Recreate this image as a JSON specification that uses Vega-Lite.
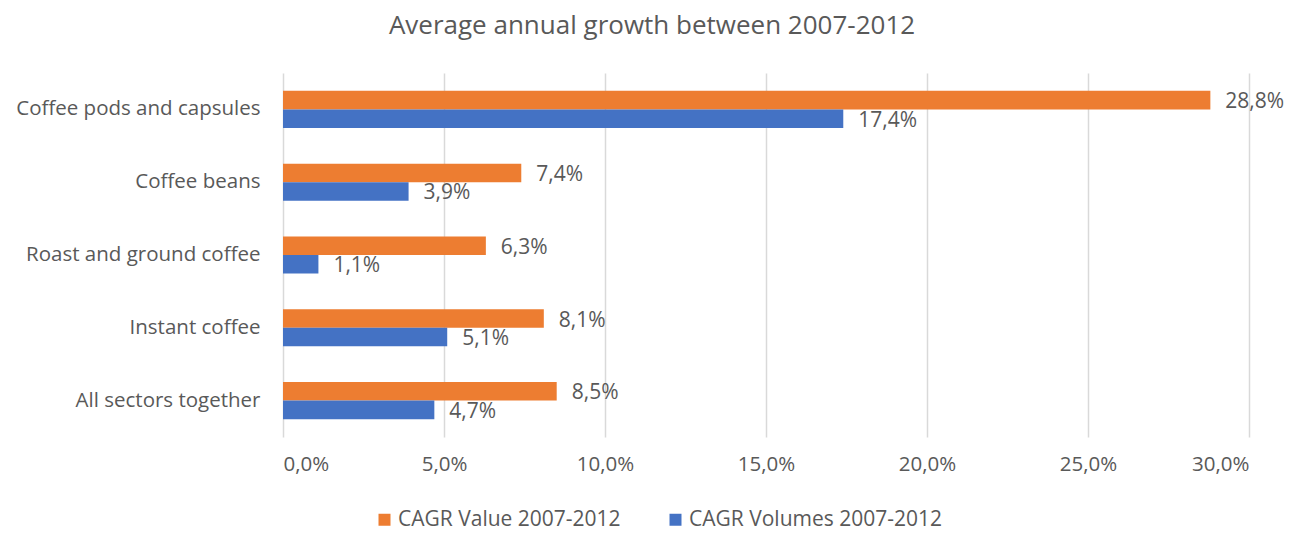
{
  "$schema": "https://vega.github.io/schema/vega-lite/v6.json",
  "autosize": {"type": "none"},
  "padding": {"left": 283, "top": 73, "right": 53, "bottom": 96},
  "width": 966,
  "height": 364,
  "background": "white",
  "title": {
    "text": "Average annual growth between 2007-2012",
    "anchor": "middle",
    "frame": "group",
    "dx": -114,
    "offset": 34,
    "fontSize": 26,
    "font": "Open Sans",
    "fontWeight": "normal",
    "color": "#595959"
  },
  "data": {
    "values": [
      {"category": "Coffee pods and capsules", "series": "CAGR Value 2007-2012", "value": 0.288},
      {"category": "Coffee pods and capsules", "series": "CAGR Volumes 2007-2012", "value": 0.174},
      {"category": "Coffee beans", "series": "CAGR Value 2007-2012", "value": 0.074},
      {"category": "Coffee beans", "series": "CAGR Volumes 2007-2012", "value": 0.039},
      {"category": "Roast and ground coffee", "series": "CAGR Value 2007-2012", "value": 0.063},
      {"category": "Roast and ground coffee", "series": "CAGR Volumes 2007-2012", "value": 0.011},
      {"category": "Instant coffee", "series": "CAGR Value 2007-2012", "value": 0.081},
      {"category": "Instant coffee", "series": "CAGR Volumes 2007-2012", "value": 0.051},
      {"category": "All sectors together", "series": "CAGR Value 2007-2012", "value": 0.085},
      {"category": "All sectors together", "series": "CAGR Volumes 2007-2012", "value": 0.047}
    ]
  },
  "encoding": {
    "y": {
      "field": "category",
      "type": "nominal",
      "sort": null,
      "scale": {"paddingInner": 0.49, "paddingOuter": 0.245},
      "axis": {
        "title": null,
        "domain": false,
        "ticks": false,
        "labelFontSize": 20.5,
        "labelFont": "Open Sans",
        "labelColor": "#595959",
        "labelPadding": 23,
        "labelLimit": 400
      }
    },
    "yOffset": {
      "field": "series",
      "type": "nominal",
      "sort": ["CAGR Value 2007-2012", "CAGR Volumes 2007-2012"],
      "scale": {"paddingInner": 0, "paddingOuter": 0}
    },
    "x": {
      "field": "value",
      "type": "quantitative",
      "scale": {"domain": [0, 0.3], "nice": false},
      "axis": {
        "title": null,
        "format": ".1%",
        "values": [0, 0.05, 0.1, 0.15, 0.2, 0.25, 0.3],
        "domain": false,
        "ticks": false,
        "grid": true,
        "gridColor": "#D9D9D9",
        "gridWidth": 1.5,
        "labelFontSize": 20.5,
        "labelFont": "Open Sans",
        "labelColor": "#595959",
        "labelPadding": 17
      }
    }
  },
  "layer": [
    {
      "mark": {"type": "bar"},
      "encoding": {
        "color": {
          "field": "series",
          "type": "nominal",
          "sort": ["CAGR Value 2007-2012", "CAGR Volumes 2007-2012"],
          "scale": {"domain": ["CAGR Value 2007-2012", "CAGR Volumes 2007-2012"], "range": ["#ED7D31", "#4472C4"]},
          "legend": {
            "title": null,
            "orient": "none",
            "direction": "horizontal",
            "legendX": 91,
            "legendY": 436,
            "symbolType": "square",
            "symbolSize": 144,
            "symbolStrokeWidth": 0,
            "labelFontSize": 21,
            "labelFont": "Open Sans",
            "labelColor": "#595959",
            "labelLimit": 400,
            "columnPadding": 44,
            "labelOffset": 3
          }
        }
      }
    },
    {
      "mark": {"type": "text", "align": "left", "baseline": "middle", "dx": 15, "dy": 2, "fontSize": 21, "font": "Open Sans", "color": "#595959"},
      "encoding": {
        "text": {"field": "value", "type": "quantitative", "format": ".1%"}
      }
    }
  ],
  "config": {
    "locale": {"number": {"decimal": ",", "thousands": ".", "grouping": [3], "currency": ["", " €"]}},
    "view": {"stroke": null}
  }
}
